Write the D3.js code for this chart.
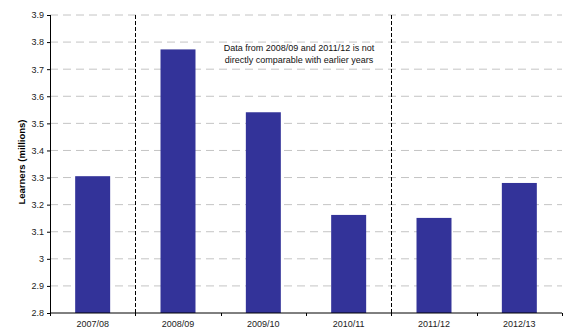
<!DOCTYPE html>
<html>
<head>
<meta charset="utf-8">
<script src="https://cdn.jsdelivr.net/npm/d3@7"></script>
<style>
  body { margin: 0; background: #fff; }
  svg { font-family: "Liberation Sans", Arial, sans-serif; }
</style>
</head>
<body>
<svg id="chart" width="564" height="332"></svg>
<script>
const years = ["2007/08", "2008/09", "2009/10", "2010/11", "2011/12", "2012/13"];
const learners = [3.305, 3.773, 3.541, 3.162, 3.151, 3.28];
const yTicks = [2.8, 2.9, 3, 3.1, 3.2, 3.3, 3.4, 3.5, 3.6, 3.7, 3.8, 3.9];
const breaks = ["2008/09", "2011/12"];
const noteLines = ["Data from 2008/09 and 2011/12 is not", "directly comparable with earlier years"];

const svg = d3.select("#chart");
const margin = { top: 15, right: 2, bottom: 19, left: 50 };
const width = 564 - margin.left - margin.right;
const height = 332 - margin.top - margin.bottom;

const g = svg.append("g").attr("transform", `translate(${margin.left},${margin.top})`);

const x = d3.scaleBand().domain(years).range([0, width]).paddingInner(0.59).paddingOuter(0.295);
const y = d3.scaleLinear().domain([2.8, 3.9]).range([height, 0]);

// gridlines
g.append("g")
  .selectAll("line")
  .data(yTicks.slice(1))
  .join("line")
  .attr("x1", 0).attr("x2", width)
  .attr("y1", d => y(d)).attr("y2", d => y(d))
  .attr("stroke", "#c4c4c4")
  .attr("stroke-width", 1)
  .attr("stroke-dasharray", "8,5");

// bars
g.selectAll("rect.bar")
  .data(years)
  .join("rect")
  .attr("class", "bar")
  .attr("x", d => x(d))
  .attr("width", x.bandwidth())
  .attr("y", (d, i) => y(learners[i]))
  .attr("height", (d, i) => height - y(learners[i]))
  .attr("fill", "#333399");

// comparability breaks
const step = x.step();
g.selectAll("line.break")
  .data(breaks)
  .join("line")
  .attr("class", "break")
  .attr("x1", d => Math.round(x(d) - x.paddingInner() * step / 2) + 0.5)
  .attr("x2", d => Math.round(x(d) - x.paddingInner() * step / 2) + 0.5)
  .attr("y1", 0).attr("y2", height)
  .attr("stroke", "#000")
  .attr("stroke-width", 1)
  .attr("stroke-dasharray", "4,2");

// y axis
const yAxis = g.append("g")
  .call(d3.axisLeft(y).tickValues(yTicks).tickSize(3).tickFormat(d => d3.format("")(d)));
yAxis.select(".domain").attr("stroke", "#000").attr("d", `M0.5,0V${height}`);
yAxis.selectAll("text").attr("font-size", 9).attr("fill", "#222").attr("x", -6);

// x axis with ticks at band boundaries
const xAxis = g.append("g").attr("transform", `translate(0,${height})`);
xAxis.append("line")
  .attr("x1", 0).attr("x2", width)
  .attr("stroke", "#000");
const bounds = d3.range(years.length + 1).map(i => i * step);
xAxis.selectAll("line.tick")
  .data(bounds)
  .join("line")
  .attr("class", "tick")
  .attr("x1", d => Math.round(d) + 0.5).attr("x2", d => Math.round(d) + 0.5)
  .attr("y1", 0).attr("y2", 3)
  .attr("stroke", "#000");
xAxis.selectAll("text")
  .data(years)
  .join("text")
  .attr("x", d => x(d) + x.bandwidth() / 2)
  .attr("y", 14)
  .attr("text-anchor", "middle")
  .attr("font-size", 9)
  .attr("fill", "#222")
  .text(d => d);

// y label
svg.append("text")
  .attr("transform", `translate(25,${margin.top + height / 2 - 2}) rotate(-90)`)
  .attr("text-anchor", "middle")
  .attr("font-size", 9.5)
  .attr("font-weight", "bold")
  .text("Learners (millions)");

// annotation
svg.append("g")
  .selectAll("text")
  .data(noteLines)
  .join("text")
  .attr("x", 299)
  .attr("y", (d, i) => 51 + i * 12)
  .attr("text-anchor", "middle")
  .attr("font-size", 9)
  .attr("fill", "#111")
  .text(d => d);
</script>
</body>
</html>
